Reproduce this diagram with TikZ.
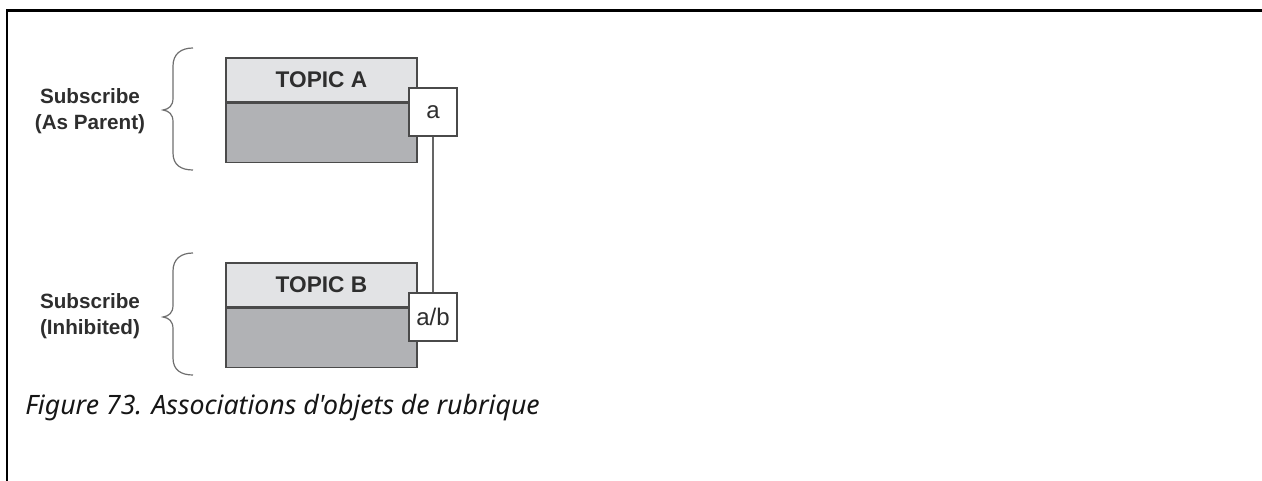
\documentclass[tikz,border=0pt]{standalone}
\usepackage{fontspec}
\setmainfont{Liberation Sans}
\newfontfamily\capfont{Noto Sans}
\definecolor{bandlight}{HTML}{E2E3E5}
\definecolor{banddark}{HTML}{B1B2B5}
\definecolor{edgegray}{HTML}{4A4A4A}
\definecolor{txtgray}{HTML}{2E2E2E}
\definecolor{capcol}{HTML}{161616}
\tikzset{
  topband/.style={draw=edgegray, line width=1.1pt, fill=bandlight, minimum width=143.25pt, minimum height=33pt, inner sep=0pt, font=\fontsize{17}{20}\selectfont\bfseries, text=txtgray},
  lowband/.style={draw=edgegray, line width=1.1pt, fill=banddark, minimum width=143.25pt, minimum height=44.25pt, inner sep=0pt},
  tagbox/.style={draw=edgegray, line width=1pt, fill=white, minimum width=36pt, minimum height=36pt, inner sep=0pt, font=\fontsize{18}{20}\selectfont, text=txtgray},
  sidelabel/.style={align=center, font=\fontsize{15.5}{20}\selectfont\bfseries, text=txtgray, inner sep=0pt},
  bracepath/.style={draw=edgegray!80, line width=0.9pt},
  link/.style={draw=edgegray!85, line width=1.1pt}
}
\begin{document}
\begin{tikzpicture}[x=0.75pt, y=-0.75pt]
\useasboundingbox (0,0) rectangle (1262,481);
% frame
\draw[line width=2.2pt, black] (1262,10.5) -- (7,10.5) -- (7,481);
% topic A
\node[topband] (tA) at (321.5,80) {TOPIC A};
\node[lowband, anchor=north] (bA) at (tA.south) {};
\node[tagbox] (a) at (433,112) {a};
% topic B
\node[topband] (tB) at (321.5,285) {TOPIC B};
\node[lowband, anchor=north] (bB) at (tB.south) {};
\node[tagbox] (ab) at (433,317) {a/b};
% connector
\draw[link] (a.south) -- (ab.north);
% braces
\draw[bracepath] (193,48) .. controls (181,48) and (173,54) .. (173,66) -- (173,98)
  .. controls (173,106) and (169,109) .. (163,110)
  .. controls (169,111) and (173,114) .. (173,122) -- (173,153)
  .. controls (173,165) and (181,170) .. (193,170);
\draw[bracepath] (193,253) .. controls (181,253) and (173,259) .. (173,271) -- (173,305)
  .. controls (173,313) and (169,316) .. (163,317)
  .. controls (169,318) and (173,321) .. (173,329) -- (173,358)
  .. controls (173,370) and (181,375) .. (193,375);
% side labels
\node[sidelabel] (lA) at (90,111) {Subscribe\\(As Parent)};
\node[sidelabel] (lB) at (90,316) {Subscribe\\(Inhibited)};
% caption
\node[anchor=base west, inner sep=0pt, text=capcol, font=\capfont\itshape\fontsize{20}{24}\selectfont] (cap) at (25,414) {Figure 73. Associations d'objets de rubrique};
\end{tikzpicture}
\end{document}
